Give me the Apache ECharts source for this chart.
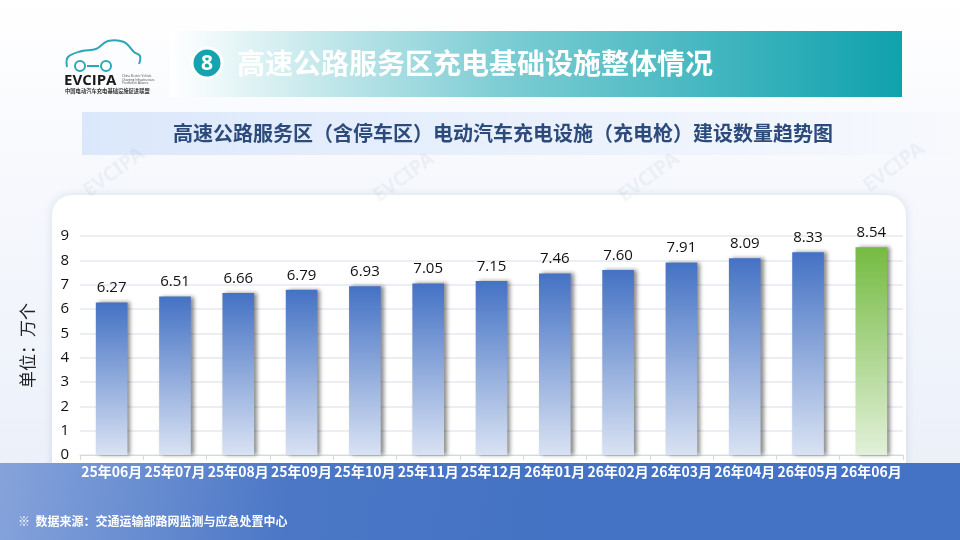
<!DOCTYPE html>
<html>
<head>
<meta charset="utf-8">
<title>高速公路服务区充电基础设施整体情况</title>
<script src="https://cdn.jsdelivr.net/npm/echarts@6/dist/echarts.min.js"></script>
<style>
  html, body { margin: 0; padding: 0; }
  #main { width: 960px; height: 540px; }
</style>
</head>
<body>
<div id="main"></div>
<script type="text/javascript">
  // 数据
  var months = ['25年06月', '25年07月', '25年08月', '25年09月', '25年10月', '25年11月',
                '25年12月', '26年01月', '26年02月', '26年03月', '26年04月', '26年05月', '26年06月'];
  var piles = [6.27, 6.51, 6.66, 6.79, 6.93, 7.05, 7.15, 7.46, 7.60, 7.91, 8.09, 8.33, 8.54];
  var yTicks = [0, 1, 2, 3, 4, 5, 6, 7, 8, 9];

  var cjk = '"Noto Sans CJK SC", "Noto Sans", sans-serif';
  var num = '"Open Sans", "Noto Sans", sans-serif';

  function grad(top, bottom) {
    return new echarts.graphic.LinearGradient(0, 0, 0, 1, [
      { offset: 0, color: top }, { offset: 1, color: bottom }
    ]);
  }
  var blueBar = grad('#4472c4', '#d9e2f3');
  var greenBar = grad('#75bb42', '#e2f0d9');

  var barData = piles.map(function (v, i) {
    return {
      value: v,
      itemStyle: { color: i === piles.length - 1 ? greenBar : blueBar }
    };
  });

  // 水印
  var marks = [[80, 185], [370, 190], [615, 190], [860, 180]].map(function (p) {
    return {
      type: 'text', x: p[0], y: p[1], rotation: Math.PI / 5, z: -5,
      style: { text: 'EVCIPA', fill: 'rgba(120,140,170,0.08)',
               font: 'bold 20px "Noto Sans", sans-serif' }
    };
  });

  var myChart = echarts.init(document.getElementById('main'));
  myChart.setOption({
    backgroundColor: new echarts.graphic.LinearGradient(0, 0, 0, 1, [
      { offset: 0, color: '#ffffff' }, { offset: 0.3, color: '#f7f9fd' }, { offset: 1, color: '#e9eef8' }
    ]),
    animation: false,
    graphic: [
      // 标题横幅
      { type: 'rect', shape: { x: 170, y: 31, width: 732, height: 66 }, z: -10,
        style: { fill: new echarts.graphic.LinearGradient(0, 0, 1, 0, [
          { offset: 0, color: '#ffffff' }, { offset: 0.45, color: '#7ecdd4' }, { offset: 1, color: '#0fa2ad' }
        ]) } },
      { type: 'circle', shape: { cx: 207, cy: 63, r: 15 }, z: -9,
        style: { fill: '#16a3b0', stroke: '#ffffff', lineWidth: 3 } },
      { type: 'text', x: 207, y: 64, z: -8,
        style: { text: '8', fill: '#ffffff', font: 'bold 21px ' + num, align: 'center', verticalAlign: 'middle' } },
      { type: 'text', x: 237, y: 63, z: -8,
        style: { text: '高速公路服务区充电基础设施整体情况', fill: '#ffffff',
                 font: 'bold 28px ' + cjk, verticalAlign: 'middle' } },
      // 标志
      { type: 'polyline', z: -8,
        shape: { points: [[67, 67], [68, 57], [82, 51], [96, 49], [108, 41], [124, 42], [134, 52], [140, 56], [139, 64]], smooth: 0.4 },
        style: { fill: 'none', stroke: '#2aa7b8', lineWidth: 2 } },
      { type: 'circle', shape: { cx: 80, cy: 66, r: 5 }, z: -8, style: { fill: '#ffffff', stroke: '#2aa7b8', lineWidth: 2 } },
      { type: 'circle', shape: { cx: 106, cy: 66, r: 5 }, z: -8, style: { fill: '#ffffff', stroke: '#2aa7b8', lineWidth: 2 } },
      { type: 'line', shape: { x1: 87, y1: 66, x2: 99, y2: 66 }, z: -8, style: { stroke: '#2aa7b8', lineWidth: 2 } },
      { type: 'text', x: 64, y: 81, z: -8,
        style: { text: 'EVCIPA', fill: '#1a1a1a', font: 'bold 15px ' + num, verticalAlign: 'middle' } },
      { type: 'text', x: 122, y: 80, z: -8,
        style: { text: 'China Electric Vehicle\nCharging Infrastructure\nPromotion Alliance', fill: '#444',
                 font: '3px ' + num, verticalAlign: 'middle', lineHeight: 3.5 } },
      { type: 'text', x: 65, y: 91, z: -8,
        style: { text: '中国电动汽车充电基础设施促进联盟', fill: '#333', font: 'bold 5.3px ' + cjk, verticalAlign: 'middle' } },
      // 副标题
      { type: 'rect', shape: { x: 82, y: 112, width: 878, height: 43 }, z: -10,
        style: { fill: new echarts.graphic.LinearGradient(0, 0, 1, 0, [
          { offset: 0, color: '#dbe8fb' }, { offset: 1, color: '#f7f9fd' }
        ]) } },
      { type: 'text', x: 503, y: 133, z: -8,
        style: { text: '高速公路服务区（含停车区）电动汽车充电设施（充电枪）建设数量趋势图', fill: '#2d4b7a',
                 font: 'bold 20px ' + cjk, align: 'center', verticalAlign: 'middle' } },
      // 图表卡片
      { type: 'rect', shape: { x: 52, y: 195, width: 854, height: 300, r: 20 }, z: -10,
        style: { fill: '#ffffff', shadowBlur: 8, shadowColor: 'rgba(120,140,180,0.25)' } },
      // 底部色带
      { type: 'rect', shape: { x: 0, y: 463, width: 960, height: 77 }, z: -6,
        style: { fill: new echarts.graphic.LinearGradient(0, 0, 0.6, 1, [
          { offset: 0, color: '#86a3db' }, { offset: 0.5, color: '#4b77c6' }, { offset: 1, color: '#4472c4' }
        ]) } },
      { type: 'text', x: 18, y: 521, z: -5,
        style: { text: '※  数据来源：交通运输部路网监测与应急处置中心', fill: '#ffffff',
                 font: 'bold 12px ' + cjk, verticalAlign: 'middle' } }
    ].concat(marks),
    grid: { left: 80, right: 57, top: 236, bottom: 85, containLabel: false },
    xAxis: {
      type: 'category',
      data: months,
      axisLine: { show: true, lineStyle: { color: '#d9d9d9' } },
      axisTick: { show: true, length: 5, lineStyle: { color: '#d9d9d9' } },
      axisLabel: { color: '#ffffff', fontWeight: 'bold', fontSize: 14, fontFamily: cjk, margin: 10, interval: 0 }
    },
    yAxis: {
      type: 'value',
      min: yTicks[0],
      max: yTicks[yTicks.length - 1],
      interval: 1,
      name: '单位：万个',
      nameLocation: 'middle',
      nameGap: 44,
      nameRotate: 90,
      nameTextStyle: { color: '#222222', fontSize: 17, fontFamily: cjk },
      axisLine: { show: false },
      axisTick: { show: false },
      axisLabel: { color: '#111111', fontSize: 15, fontFamily: num, margin: 11 },
      splitLine: { lineStyle: { color: '#e4e9f2', width: 1.5 } }
    },
    series: [{
      type: 'bar',
      data: barData,
      barWidth: '50%',
      itemStyle: { shadowColor: 'rgba(0,0,0,0.45)', shadowBlur: 4, shadowOffsetX: 3, shadowOffsetY: 0 },
      label: {
        show: true, position: 'top', distance: 7, color: '#111111', fontSize: 15, fontFamily: num,
        formatter: function (p) { return p.value.toFixed(2); }
      }
    }]
  });
</script>
</body>
</html>
